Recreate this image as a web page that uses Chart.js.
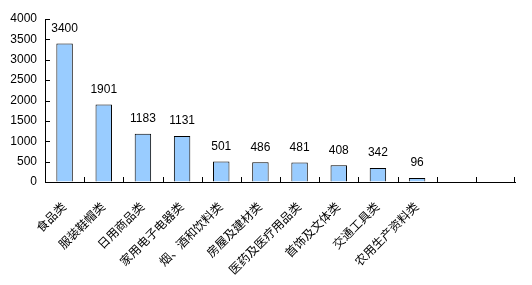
<!DOCTYPE html>
<html><head><meta charset="utf-8">
<script src="https://cdn.jsdelivr.net/npm/chart.js@4"></script>
<style>html,body{margin:0;padding:0;background:#fff;}#wrap{width:532px;height:285px;}</style>
</head><body><div id="wrap"><canvas id="c" width="532" height="285"></canvas></div>
<script>
const categories = ["食品类","服装鞋帽类","日用商品类","家用电子电器类","烟、酒和饮料类","房屋及建材类","医药及医疗用品类","首饰及文体类","交通工具类","农用生产资料类","",""];
const values = [3400,1901,1183,1131,501,486,481,408,342,96,null,null];
const yTicks = [0,500,1000,1500,2000,2500,3000,3500,4000];
const FONT = '"Liberation Sans","Noto Sans CJK SC",sans-serif';

const inTicks = {
  id:'inTicks',
  afterDraw(chart){
    const ctx = chart.ctx, x = chart.scales.x, y = chart.scales.y;
    ctx.save();
    ctx.strokeStyle = '#000'; ctx.lineWidth = 1;
    ctx.beginPath();
    yTicks.forEach(v=>{ const py = Math.round(y.getPixelForValue(v))+0.5; ctx.moveTo(x.left, py); ctx.lineTo(x.left+5, py); });
    for(let i=1;i<=categories.length;i++){
      const px = Math.round((x.getPixelForValue(i-1)+x.getPixelForValue(i))/2)+0.5;
      const pxx = i===categories.length ? Math.round(x.right)-0.5 : px;
      ctx.moveTo(pxx, y.bottom); ctx.lineTo(pxx, y.bottom-5);
    }
    ctx.stroke();
    ctx.fillStyle='#000'; ctx.font = '12px '+FONT; ctx.textAlign='center'; ctx.textBaseline='middle';
    const meta = chart.getDatasetMeta(0);
    meta.data.forEach((el,i)=>{ if(values[i]==null) return; ctx.fillText(String(values[i]), el.x, el.y-15); });
    ctx.restore();
  }
};

new Chart(document.getElementById('c'),{
  type:'bar',
  data:{labels:categories,datasets:[{data:values,backgroundColor:'#99CCFF',borderColor:'#000',borderWidth:1,barPercentage:0.42,categoryPercentage:1}]},
  options:{
    responsive:false,animation:false,
    layout:{padding:{top:19,right:17,left:0,bottom:0}},
    plugins:{legend:{display:false},tooltip:{enabled:false}},
    scales:{
      x:{
        grid:{display:true,drawOnChartArea:false,drawTicks:false,color:'transparent'},
        border:{display:true,color:'#000',width:1},
        ticks:{color:'#000',font:{size:12,family:FONT},minRotation:45,maxRotation:45,autoSkip:false,padding:18},
        afterFit(s){s.height=103;}
      },
      y:{
        min:0,max:4000,
        grid:{display:true,drawOnChartArea:false,drawTicks:false,color:'transparent'},
        border:{display:true,color:'#000',width:1},
        ticks:{color:'#000',font:{size:12,family:FONT},stepSize:500,padding:8,callback:(v)=>String(v)},
        afterFit(s){s.width=45;}
      }
    }
  },
  plugins:[inTicks]
});
</script></body></html>
